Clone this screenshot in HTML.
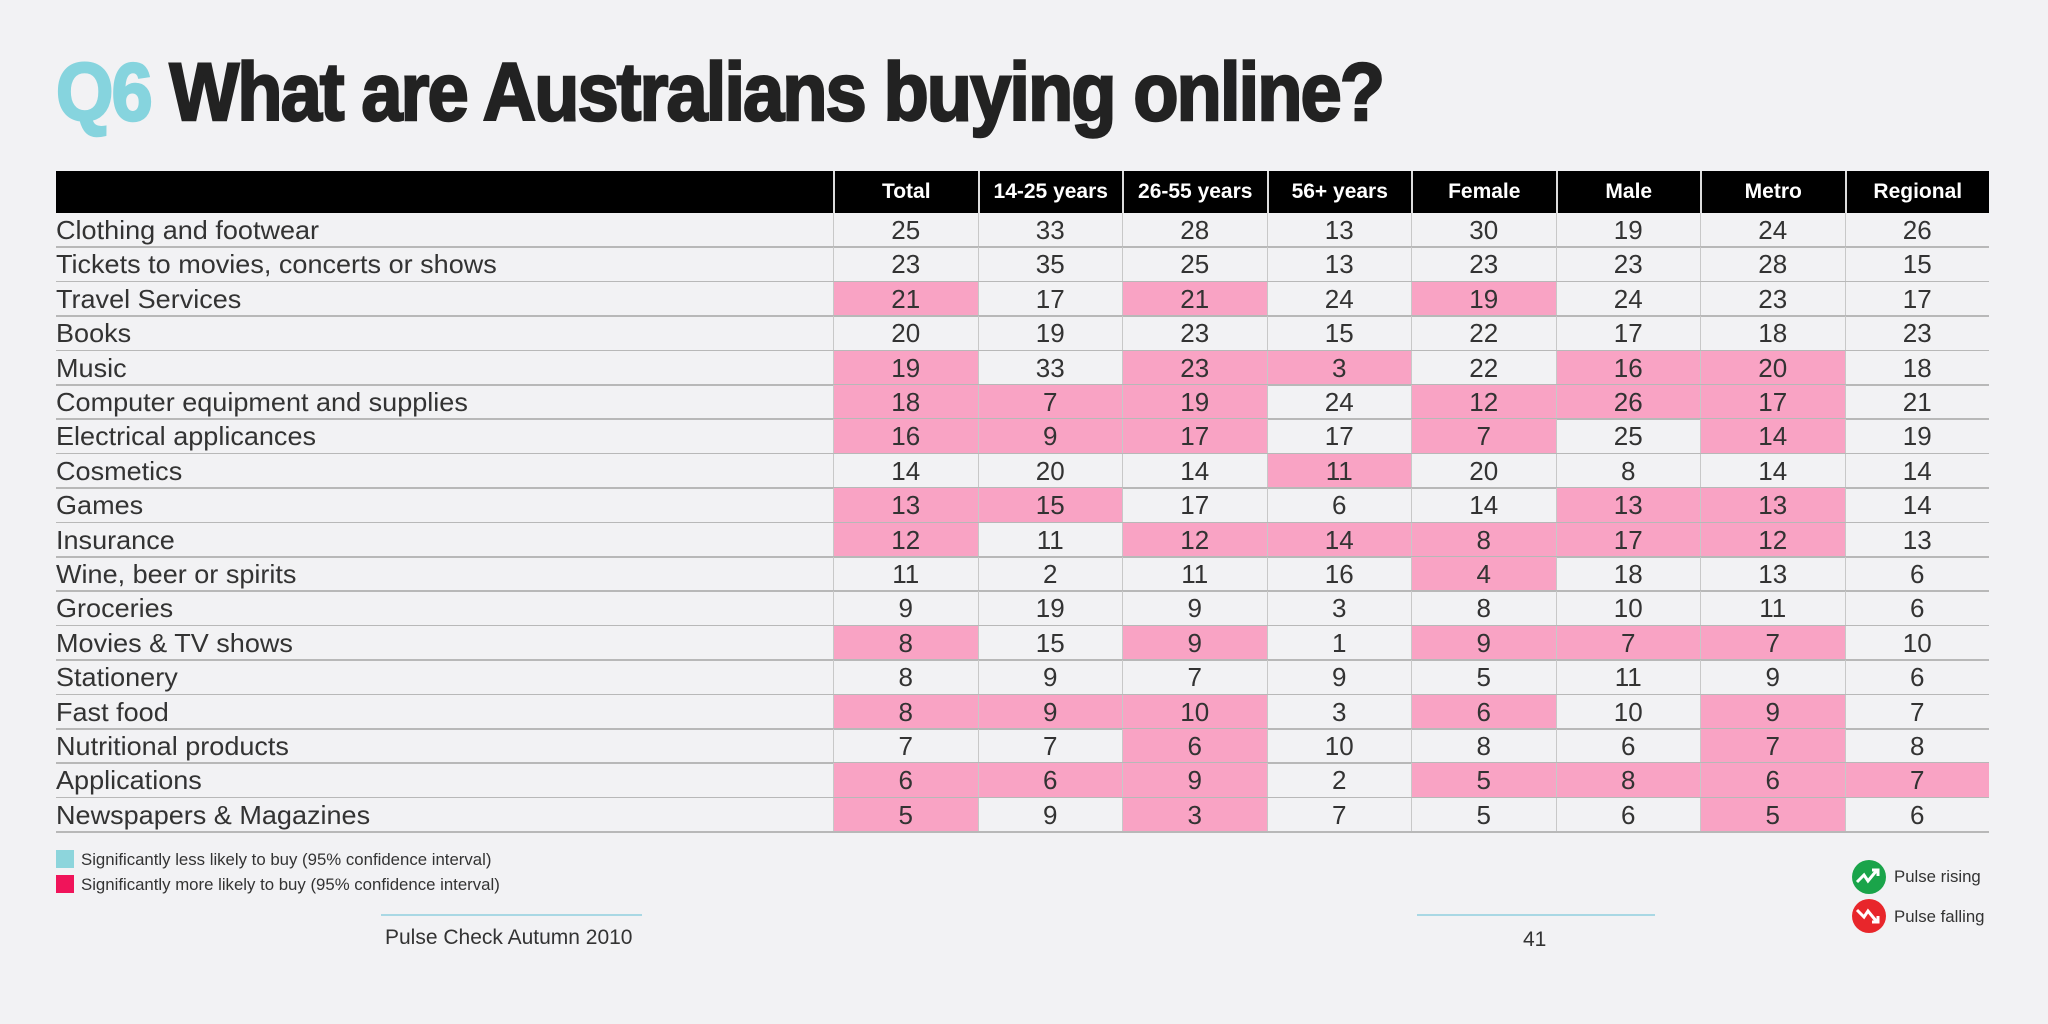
<!DOCTYPE html>
<html><head><meta charset="utf-8">
<style>
body{margin:0;width:2048px;height:1024px;background:#f2f2f4;font-family:"Liberation Sans",sans-serif;position:relative;overflow:hidden}
#title{position:absolute;left:56px;top:46px;font-size:82px;font-weight:bold;color:#222;white-space:nowrap;transform-origin:0 0;transform:scaleX(0.90);letter-spacing:-2px;-webkit-text-stroke:2.5px #222}
#title .q{color:#86d4de;-webkit-text-stroke:2.5px #86d4de}
.cell{position:absolute;box-sizing:border-box;text-align:center;color:#333;font-size:26px;line-height:34px}
.lab{position:absolute;left:56px;color:#333;font-size:26px;line-height:34px;white-space:nowrap;transform-origin:0 50%;transform:scaleX(1.04)}
.hdr{position:absolute;top:171px;height:42px;color:#fff;font-weight:bold;font-size:21px;line-height:42px;text-align:center;box-sizing:border-box;border-left:2px solid #ddd}
.small{position:absolute;font-size:16.8px;color:#333;white-space:nowrap}
</style></head><body>
<div id="title"><span class="q">Q6</span> What are Australians buying online?</div>
<div id="table"></div>

<div style="position:absolute;left:56px;top:850px;width:18px;height:18px;background:#8dd5dc"></div>
<div class="small" style="left:81px;top:850px">Significantly less likely to buy (95% confidence interval)</div>
<div style="position:absolute;left:56px;top:875px;width:18px;height:18px;background:#f0145a"></div>
<div class="small" style="left:81px;top:875px">Significantly more likely to buy (95% confidence interval)</div>

<div style="position:absolute;left:381px;top:914px;width:261px;height:2px;background:#a9d8e4"></div>
<div class="small" style="left:385px;top:926px;font-size:21px">Pulse Check Autumn 2010</div>
<div style="position:absolute;left:1417px;top:914px;width:238px;height:2px;background:#a9d8e4"></div>
<div class="small" style="left:1523px;top:928px;font-size:21px">41</div>

<svg style="position:absolute;left:1850px;top:858px" width="40" height="80">
<circle cx="19" cy="19" r="17" fill="#1aa44a"/>
<path d="M7 24 L14 17 L18 23 L27 12 M22 12 H28 V18" stroke="#fff" stroke-width="3" fill="none"/>
<circle cx="19" cy="58" r="17" fill="#e8262b"/>
<path d="M7 52 L14 59 L18 53 L27 64 M22 64 H28 V58" stroke="#fff" stroke-width="3" fill="none"/>
</svg>
<div class="small" style="left:1894px;top:867px">Pulse rising</div>
<div class="small" style="left:1894px;top:907px">Pulse falling</div>

<script>
const columns=["Total","14-25 years","26-55 years","56+ years","Female","Male","Metro","Regional"];
const categories=["Clothing and footwear","Tickets to movies, concerts or shows","Travel Services","Books","Music","Computer equipment and supplies","Electrical applicances","Cosmetics","Games","Insurance","Wine, beer or spirits","Groceries","Movies & TV shows","Stationery","Fast food","Nutritional products","Applications","Newspapers & Magazines"];
const values=[
[25,33,28,13,30,19,24,26],
[23,35,25,13,23,23,28,15],
[21,17,21,24,19,24,23,17],
[20,19,23,15,22,17,18,23],
[19,33,23,3,22,16,20,18],
[18,7,19,24,12,26,17,21],
[16,9,17,17,7,25,14,19],
[14,20,14,11,20,8,14,14],
[13,15,17,6,14,13,13,14],
[12,11,12,14,8,17,12,13],
[11,2,11,16,4,18,13,6],
[9,19,9,3,8,10,11,6],
[8,15,9,1,9,7,7,10],
[8,9,7,9,5,11,9,6],
[8,9,10,3,6,10,9,7],
[7,7,6,10,8,6,7,8],
[6,6,9,2,5,8,6,7],
[5,9,3,7,5,6,5,6]];
const highlight=[
[0,0,0,0,0,0,0,0],
[0,0,0,0,0,0,0,0],
[1,0,1,0,1,0,0,0],
[0,0,0,0,0,0,0,0],
[1,0,1,1,0,1,1,0],
[1,1,1,0,1,1,1,0],
[1,1,1,0,1,0,1,0],
[0,0,0,1,0,0,0,0],
[1,1,0,0,0,1,1,0],
[1,0,1,1,1,1,1,0],
[0,0,0,0,1,0,0,0],
[0,0,0,0,0,0,0,0],
[1,0,1,0,1,1,1,0],
[0,0,0,0,0,0,0,0],
[1,1,1,0,1,0,1,0],
[0,0,1,0,0,0,1,0],
[1,1,1,0,1,1,1,1],
[1,0,1,0,0,0,1,0]];
const T=document.getElementById('table');
const L=56,R=1989,C0=833,top0=171,hh=42,rowH=34.4;
const colW=(R-C0)/columns.length;
function cx(j){return C0+j*colW;}
function ry(i){return top0+hh+i*rowH;}
const bar=document.createElement('div');


bar.style.cssText=`position:absolute;left:${L}px;top:${top0}px;width:${R-L}px;height:${hh}px;background:#000`;
T.appendChild(bar);
columns.forEach((c,j)=>{
 const h=document.createElement('div');
 h.className='hdr';
 
 
 h.style.left=cx(j)+'px';h.style.width=colW+'px';
 h.textContent=c;T.appendChild(h);
});
categories.forEach((cat,i)=>{
 const y=ry(i);
 const lab=document.createElement('div');
 lab.className='lab';
 
 
 lab.style.top=y+'px';lab.textContent=cat;T.appendChild(lab);
 values[i].forEach((v,j)=>{
  const c=document.createElement('div');
  c.className='cell';
  
  
  c.style.cssText+=`left:${cx(j)}px;top:${y}px;width:${colW}px;height:${rowH}px;border-left:1px solid #c8c8c8;`+(highlight[i][j]?'background:#f9a3c4;':'');
  c.textContent=v;T.appendChild(c);
 });
 const ln=document.createElement('div');
 
 
 ln.style.cssText=`position:absolute;left:${L}px;top:${y+rowH-1}px;width:${R-L}px;height:1.5px;background:#b8b8b8`;
 T.appendChild(ln);
});
</script>
</body></html>
